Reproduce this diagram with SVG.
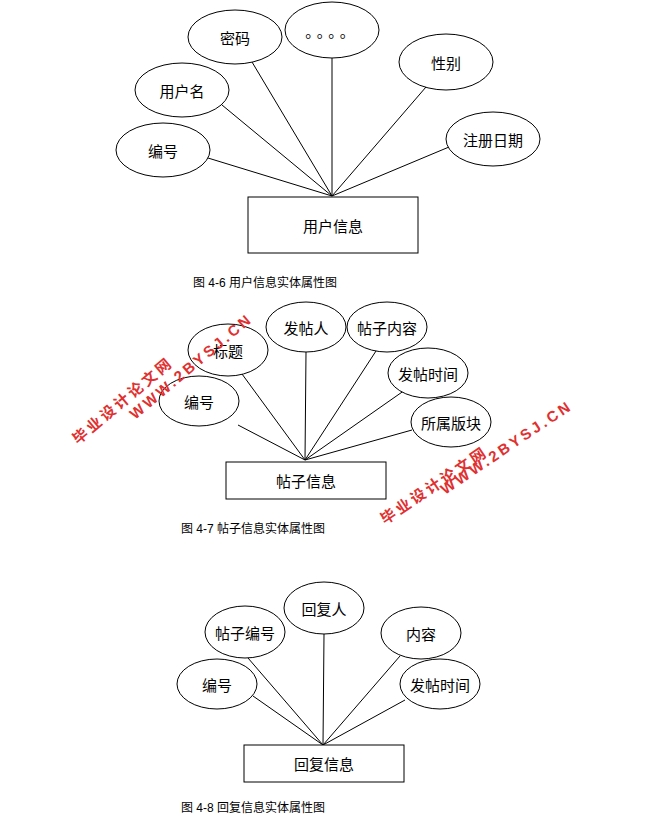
<svg xmlns="http://www.w3.org/2000/svg" width="646" height="829" viewBox="0 0 646 829">
<style>
.e{fill:#fff;stroke:#000;stroke-width:1}
.r{fill:#fff;stroke:#000;stroke-width:1}
.l{stroke:#000;stroke-width:1;fill:none}
.t{font-family:"Noto Sans CJK SC",sans-serif;font-size:15px;text-anchor:middle;dominant-baseline:central}
.c{font-family:"Liberation Sans","Noto Sans CJK SC",sans-serif;font-size:12px}
.w{font-family:"Liberation Sans","Noto Sans CJK SC",sans-serif;font-size:15px;font-weight:bold;fill:#e03030;letter-spacing:3px}
</style>
<rect width="646" height="829" fill="#fff"/>
<g id="connectors">
<path class="l" d="M208 158L332 196M222 105L332 196M252 62L332 196M332 58L332 196M426 87L332 196M449 147L332 196"/>
<path class="l" d="M238 425L305 460M242 374L305 460M306 352L305 460M376 351L305 460M405 390L305 460M412 430L305 460"/>
<path class="l" d="M253 696L323 745M248 658L323 745M324 634L323 745M400 656L323 745M405 700L323 745"/>
</g>
<g id="n1"><rect class="r" x="248" y="197" width="170" height="56"/><text class="t" x="333" y="225">用户信息</text></g>
<g id="n1a"><ellipse class="e" cx="235" cy="37" rx="47" ry="27"/><text class="t" x="235" y="37">密码</text></g>
<g id="n1b"><ellipse class="e" cx="332" cy="30" rx="47" ry="28"/><text class="t" x="332" y="30" style="letter-spacing:4px">。。。。</text></g>
<g id="n1c"><ellipse class="e" cx="446" cy="62" rx="47" ry="28"/><text class="t" x="446" y="62">性别</text></g>
<g id="n1d"><ellipse class="e" cx="182" cy="90" rx="47" ry="27"/><text class="t" x="182" y="90">用户名</text></g>
<g id="n1e"><ellipse class="e" cx="493" cy="139" rx="47" ry="27"/><text class="t" x="493" y="139">注册日期</text></g>
<g id="n1f"><ellipse class="e" cx="163" cy="150" rx="47" ry="27"/><text class="t" x="163" y="150">编号</text></g>
<text class="c" x="193" y="287">图 4-6 用户信息实体属性图</text>

<g id="n2"><rect class="r" x="226" y="462" width="160" height="37"/><text class="t" x="306" y="480">帖子信息</text></g>
<g id="n2a"><ellipse class="e" cx="228" cy="350" rx="40" ry="26"/><text class="t" x="228" y="350">标题</text></g>
<g id="n2b"><ellipse class="e" cx="306" cy="327" rx="40" ry="25"/><text class="t" x="306" y="327">发帖人</text></g>
<g id="n2c"><ellipse class="e" cx="387" cy="327" rx="40" ry="25"/><text class="t" x="387" y="327">帖子内容</text></g>
<g id="n2d"><ellipse class="e" cx="428" cy="373" rx="40" ry="25"/><text class="t" x="428" y="373">发帖时间</text></g>
<g id="n2e"><ellipse class="e" cx="199" cy="401" rx="40" ry="25"/><text class="t" x="199" y="401">编号</text></g>
<g id="n2f"><ellipse class="e" cx="451" cy="422" rx="40" ry="25"/><text class="t" x="451" y="422">所属版块</text></g>
<text class="c" x="181" y="533">图 4-7 帖子信息实体属性图</text>

<g id="n3"><rect class="r" x="244" y="745" width="160" height="37"/><text class="t" x="324" y="763">回复信息</text></g>
<g id="n3a"><ellipse class="e" cx="324" cy="608" rx="40" ry="26"/><text class="t" x="324" y="608">回复人</text></g>
<g id="n3b"><ellipse class="e" cx="245" cy="632" rx="40" ry="26"/><text class="t" x="245" y="632">帖子编号</text></g>
<g id="n3c"><ellipse class="e" cx="421" cy="633" rx="40" ry="26"/><text class="t" x="421" y="633">内容</text></g>
<g id="n3d"><ellipse class="e" cx="217" cy="684" rx="40" ry="25"/><text class="t" x="217" y="684">编号</text></g>
<g id="n3e"><ellipse class="e" cx="440" cy="684" rx="40" ry="25"/><text class="t" x="440" y="684">发帖时间</text></g>
<text class="c" x="181" y="812">图 4-8 回复信息实体属性图</text>

<g id="watermark">
<text class="w" transform="translate(78,445) rotate(-40)">毕业设计论文网</text>
<text class="w" transform="translate(135,420) rotate(-40)">WWW.2BYSJ.CN</text>
<text class="w" transform="translate(385,525) rotate(-34)">毕业设计论文网</text>
<text class="w" transform="translate(445,495) rotate(-34)">WWW.2BYSJ.CN</text>
</g>
</svg>
